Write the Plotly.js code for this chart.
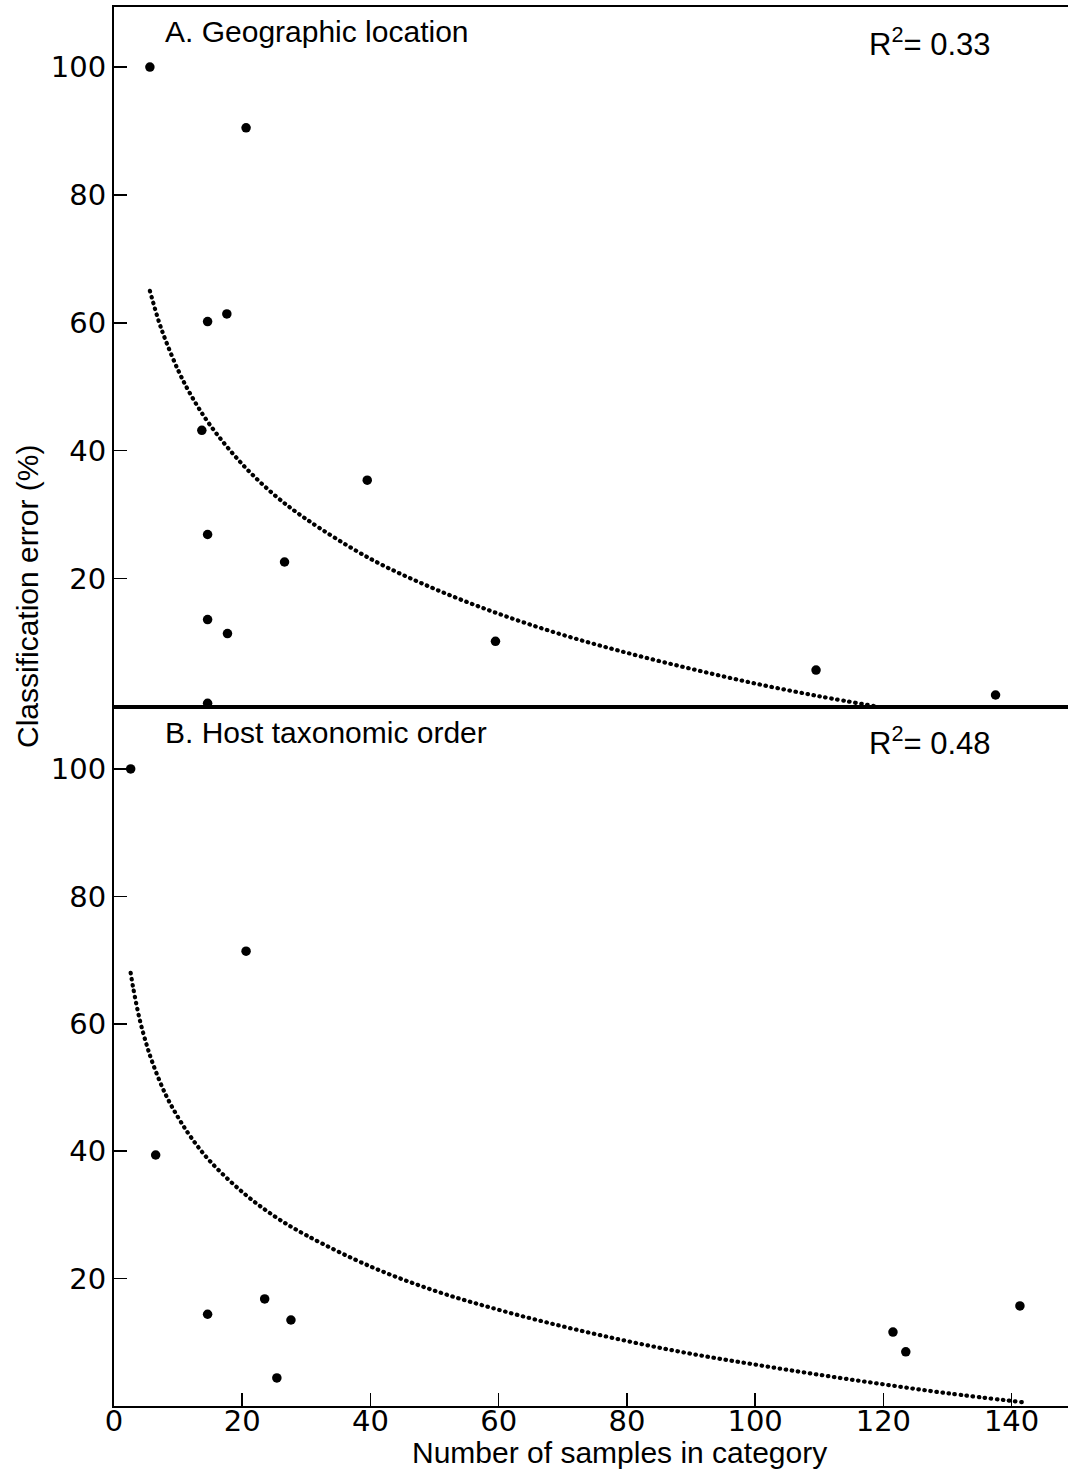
<!DOCTYPE html>
<html>
<head>
<meta charset="utf-8">
<script src="https://cdn.plot.ly/plotly-3.0.1.min.js"></script>
<style>
  html, body { margin: 0; padding: 0; background: #fff; }
  #chart { width: 1068px; height: 1469px; }
  .fitcurve path.js-line { stroke-linecap: round; }
</style>
</head>
<body>
<div id="chart"></div>
<script>
// Panel A: geographic location
const geoSamples = [5.6, 20.6, 14.6, 17.6, 13.7, 14.6, 26.6, 14.6, 17.7, 14.6, 39.5, 59.5, 109.5, 137.5];
const geoError   = [100, 90.5, 60.2, 61.4, 43.2, 26.9, 22.6, 13.6, 11.4, 0.5, 35.4, 10.2, 5.7, 1.8];
// fitted curve for panel A
const geoFitX = [5.6, 7, 8, 10, 12, 15, 20, 25, 30, 40, 50, 60, 70, 80, 90, 100, 110, 119];
const geoFitY = [65.0, 60.2, 57.4, 52.6, 48.7, 44.0, 37.9, 33.1, 29.3, 23.1, 18.4, 14.5, 11.2, 8.4, 5.9, 3.6, 1.6, 0.0];

// Panel B: host taxonomic order
const hostSamples = [2.6, 6.5, 20.6, 14.6, 23.5, 27.6, 25.4, 121.5, 123.5, 141.3];
const hostError   = [100, 39.4, 71.4, 14.4, 16.8, 13.5, 4.4, 11.6, 8.5, 15.7];
const hostFitX = [2.6, 3, 4, 5, 6, 8, 10, 12, 15, 20, 25, 30, 40, 50, 60, 70, 80, 90, 100, 110, 120, 130, 141.7];
const hostFitY = [68.0, 65.6, 60.7, 57.0, 53.9, 49.0, 45.3, 42.2, 38.4, 33.6, 29.8, 26.8, 21.9, 18.1, 15.1, 12.5, 10.2, 8.2, 6.5, 4.9, 3.4, 2.0, 0.6];

const xTicks = [0, 20, 40, 60, 80, 100, 120, 140];
const yTicks = [20, 40, 60, 80, 100];

const panelTitles = ['A. Geographic location', 'B. Host taxonomic order'];
const r2Labels = ['R<sup>2</sup>= 0.33', 'R<sup>2</sup>= 0.48'];
const xTitle = 'Number of samples in category';
const yTitle = 'Classification error (%)';

const tickFont = {family: 'DejaVu Sans', size: 29, color: '#000'};
const textFont = {family: 'Liberation Sans, Arial, sans-serif', size: 30, color: '#000'};

const curveLine = {color: '#000', width: 4.2, dash: '0.5px,5.6px', shape: 'spline'};

const traces = [
  {x: geoFitX, y: geoFitY, xaxis: 'x2', yaxis: 'y2', mode: 'lines', line: curveLine, hoverinfo: 'skip'},
  {x: geoSamples, y: geoError, xaxis: 'x2', yaxis: 'y2', mode: 'markers', cliponaxis: false,
   marker: {color: '#000', size: 9.5}},
  {x: hostFitX, y: hostFitY, xaxis: 'x', yaxis: 'y', mode: 'lines', line: curveLine, hoverinfo: 'skip'},
  {x: hostSamples, y: hostError, xaxis: 'x', yaxis: 'y', mode: 'markers', cliponaxis: false,
   marker: {color: '#000', size: 9.5}}
];

const L = 114, W = 1068 - L, T = 7, H = 1469 - 7 - 63;
function px(xp) { return (xp - L) / W; }
function py(yp) { return 1 - (yp - T) / H; }

const layout = {
  width: 1068, height: 1469,
  margin: {l: L, r: 0, t: T, b: 63},
  paper_bgcolor: '#fff', plot_bgcolor: '#fff',
  showlegend: false,
  xaxis: {
    domain: [0, 1], range: [0, 148.8], anchor: 'y',
    showline: true, linecolor: '#000', linewidth: 2, mirror: true,
    ticks: 'inside', ticklen: 13, tickwidth: 1.5, tickcolor: '#000',
    tickvals: xTicks, ticktext: xTicks.map(String), tickfont: tickFont,
    ticklabelstandoff: -12,
    showgrid: false, zeroline: false
  },
  xaxis2: {
    domain: [0, 1], range: [0, 148.8], anchor: 'y2', matches: 'x',
    showline: true, linecolor: '#000', linewidth: 2, mirror: true,
    ticks: '', showticklabels: false, showgrid: false, zeroline: false
  },
  yaxis: {
    domain: [0, 0.5], range: [0, 109.8], anchor: 'x',
    showline: true, linecolor: '#000', linewidth: 2,
    ticks: 'inside', ticklen: 13, tickwidth: 1.5, tickcolor: '#000',
    tickvals: yTicks, ticktext: yTicks.map(String), tickfont: tickFont,
    showgrid: false, zeroline: false
  },
  yaxis2: {
    domain: [0.5, 1], range: [0, 109.4], anchor: 'x2',
    showline: true, linecolor: '#000', linewidth: 2,
    ticks: 'inside', ticklen: 13, tickwidth: 1.5, tickcolor: '#000',
    tickvals: yTicks, ticktext: yTicks.map(String), tickfont: tickFont,
    showgrid: false, zeroline: false
  },
  annotations: [
    {text: panelTitles[0], xref: 'paper', yref: 'paper', x: px(163), y: py(31.5), xanchor: 'left', yanchor: 'middle', showarrow: false, font: textFont},
    {text: panelTitles[1], xref: 'paper', yref: 'paper', x: px(163), y: py(732), xanchor: 'left', yanchor: 'middle', showarrow: false, font: textFont},
    {text: r2Labels[0], xref: 'paper', yref: 'paper', x: px(930), y: py(42), xanchor: 'center', yanchor: 'middle', showarrow: false, font: {family: textFont.family, size: 31, color: '#000'}},
    {text: r2Labels[1], xref: 'paper', yref: 'paper', x: px(930), y: py(741), xanchor: 'center', yanchor: 'middle', showarrow: false, font: {family: textFont.family, size: 31, color: '#000'}},
    {text: xTitle, xref: 'paper', yref: 'paper', x: px(619), y: py(1452.5), xanchor: 'center', yanchor: 'middle', showarrow: false, font: textFont},
    {text: yTitle, xref: 'paper', yref: 'paper', x: px(28), y: py(597), xanchor: 'center', yanchor: 'middle', textangle: -90, showarrow: false, font: textFont}
  ]
};

Plotly.newPlot('chart', traces, layout, {staticPlot: true, displayModeBar: false}).then(function () {
  document.querySelectorAll('.scatterlayer .trace').forEach(function (g) {
    if (g.querySelector('path.js-line')) g.classList.add('fitcurve');
  });
});
</script>
</body>
</html>
